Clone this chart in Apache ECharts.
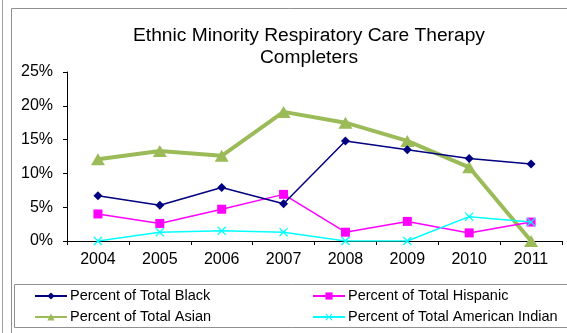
<!DOCTYPE html>
<html><head><meta charset="utf-8">
<script src="https://cdn.jsdelivr.net/npm/echarts@6/dist/echarts.min.js"></script>
<style>html,body{margin:0;padding:0;background:#fff}#c{width:567px;height:333px}</style>
</head><body><div id="c"></div>
<script>
var years = ['2004','2005','2006','2007','2008','2009','2010','2011'];
var black = [6.7, 5.3, 7.9, 5.5, 14.8, 13.5, 12.2, 11.4];
var hispanic = [4.0, 2.6, 4.7, 6.9, 1.3, 2.9, 1.2, 2.8];
var asian = [12.1, 13.3, 12.6, 19.1, 17.5, 14.8, 10.9, 0];
var amIndian = [0, 1.3, 1.5, 1.3, 0, 0, 3.6, 2.8];
var yTicks = [0, 5, 10, 15, 20, 25];

var xPath = 'path://M0,1L1,0L5,4L9,0L10,1L6,5L10,9L9,10L5,6L1,10L0,9L4,5Z';
var chart = echarts.init(document.getElementById('c'));
var font = 'Arial, "Liberation Sans", sans-serif';
chart.setOption({
  animation: false,
  title: {
    text: 'Ethnic Minority Respiratory Care Therapy\nCompleters',
    left: 309, top: 25, textAlign: 'center', padding: 0,
    textStyle: {fontFamily: font, fontSize: 19.2, fontWeight: 'normal', color: '#000', lineHeight: 22}
  },
  graphic: [
    {type: 'line', shape: {x1: 2.5, y1: 0, x2: 2.5, y2: 333}, style: {stroke: '#a0a0a0', lineWidth: 1}},
    {type: 'polyline', shape: {points: [[11.5, 333], [11.5, 8.5], [567, 8.5]]}, style: {stroke: '#909090', fill: null, lineWidth: 1}},
    {type: 'rect', shape: {x: 14.5, y: 284.5, width: 560, height: 43}, style: {stroke: '#909090', fill: null, lineWidth: 1}}
  ],
  legend: [
    {data: ['Percent of Total Black', 'Percent of Total Asian'], orient: 'vertical', left: 34, top: 288, padding: 0, itemGap: 5, itemWidth: 32, itemHeight: 9,
     textStyle: {fontFamily: font, fontSize: 14.5, lineHeight: 16, color: '#000', padding: [0, 0, 0, -2]}},
    {data: ['Percent of Total Hispanic', 'Percent of Total American Indian'], orient: 'vertical', left: 312, top: 288, padding: 0, itemGap: 5, itemWidth: 32, itemHeight: 9,
     textStyle: {fontFamily: font, fontSize: 14.5, lineHeight: 16, color: '#000', padding: [0, 0, 0, -2]}}
  ],
  grid: {left: 67, right: 5, top: 72, bottom: 92, containLabel: false},
  xAxis: {
    type: 'category', data: years, boundaryGap: true,
    axisLine: {lineStyle: {color: '#000', width: 1}},
    axisTick: {show: true, length: 4, lineStyle: {color: '#000'}},
    axisLabel: {fontFamily: font, fontSize: 16, color: '#000', margin: 11}
  },
  yAxis: {
    type: 'value', min: yTicks[0], max: yTicks[yTicks.length - 1], interval: 5,
    splitLine: {show: false},
    axisLine: {show: true, lineStyle: {color: '#000', width: 1}},
    axisTick: {show: true, length: 4, lineStyle: {color: '#000'}},
    axisLabel: {fontFamily: font, fontSize: 16, color: '#000', margin: 14, formatter: '{value}%'}
  },
  series: [
    {name: 'Percent of Total Black', type: 'line', data: black, symbol: 'diamond', symbolSize: 9,
     itemStyle: {color: '#000080'}, lineStyle: {color: '#000080', width: 1.5}, z: 3},
    {name: 'Percent of Total Hispanic', type: 'line', data: hispanic, symbol: 'rect', symbolSize: 9,
     itemStyle: {color: '#FF00FF'}, lineStyle: {color: '#FF00FF', width: 1.5}, z: 2},
    {name: 'Percent of Total Asian', type: 'line', data: asian, symbol: 'triangle', symbolSize: [14, 12],
     itemStyle: {color: '#9BBB59'}, lineStyle: {color: '#9BBB59', width: 4}, z: 1},
    {name: 'Percent of Total American Indian', type: 'line', data: amIndian, symbol: xPath, symbolSize: 9,
     itemStyle: {color: '#00FFFF'}, lineStyle: {color: '#00FFFF', width: 1.5}, z: 4}
  ]
});
</script></body></html>
